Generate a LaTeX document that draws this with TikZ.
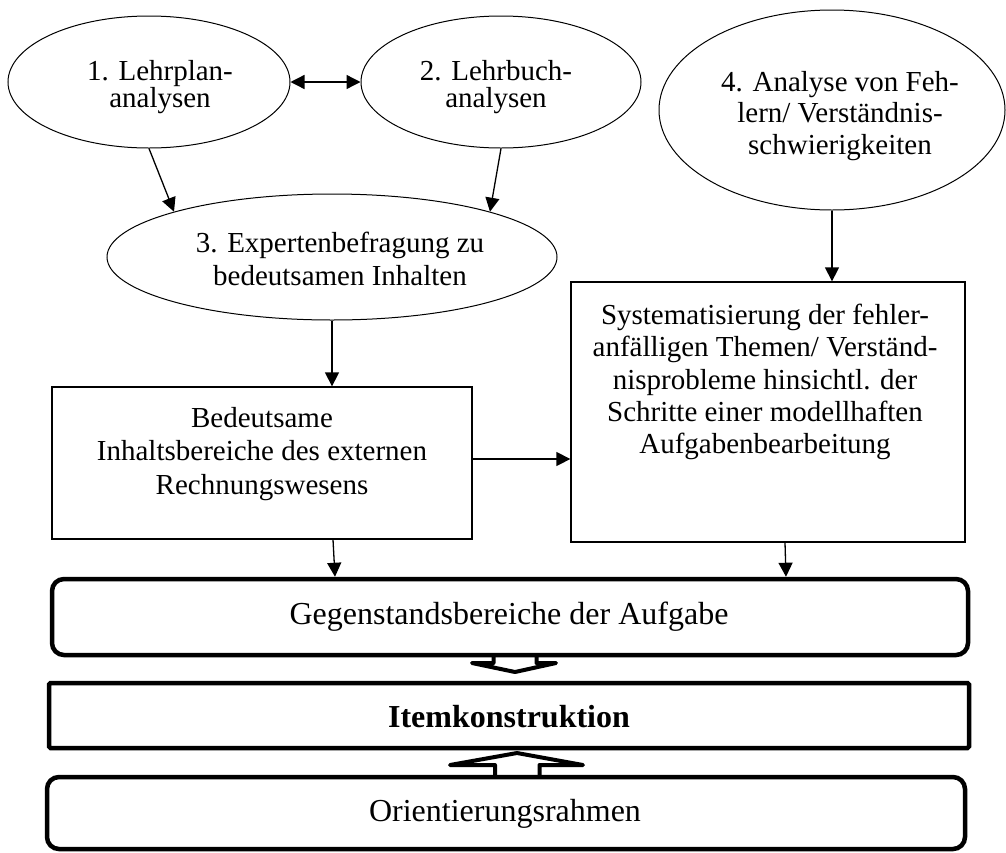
\documentclass[tikz,border=0pt]{standalone}
\usepackage{fontspec}
\setmainfont{Liberation Serif}
\usetikzlibrary{shapes.geometric,arrows.meta}
\begin{document}
\begin{tikzpicture}[x=1pt,y=-1pt,
  ell/.style={draw,ellipse,line width=1pt,inner sep=0pt},
  thinbox/.style={draw,rectangle,line width=1.3pt,inner sep=0pt},
  thickbox/.style={draw,rectangle,line width=4.5pt,inner sep=0pt,fill=white,rounded corners=12pt},
  txt/.style={align=center,inner sep=0pt,font=\fontsize{29}{33}\selectfont},
  bigtxt/.style={align=center,inner sep=0pt,font=\fontsize{32}{36}\selectfont},
  link/.style={line width=1.3pt,-{Triangle[length=14pt,width=14pt]}},
  blockarrow/.style={line width=4pt,line join=round,fill=white}
]
% canvas
\fill[white] (0,0) rectangle (1006,852);
\useasboundingbox (0,0) rectangle (1006,852);

% hollow block arrows (partly hidden behind the boxes)
\draw[blockarrow] (493.5,640) -- (493.5,663) -- (472,663) -- (515,672) -- (556,663)
  -- (536.5,663) -- (536.5,640) -- cycle;
\draw[blockarrow] (495,790) -- (495,765) -- (450,765) -- (517,753) -- (583,765)
  -- (539.5,765) -- (539.5,790) -- cycle;

% ellipses
\node[ell,minimum width=282pt,minimum height=132pt] (e1) at (149,82) {};
\node[ell,minimum width=280pt,minimum height=132pt] (e2) at (501,82) {};
\node[ell,minimum width=450pt,minimum height=126pt] (e3) at (332,257) {};
\node[ell,minimum width=346pt,minimum height=200pt] (e4) at (832,110) {};

\node[txt,font=\fontsize{29}{27}\selectfont] (t1) at (160,87) {1. Lehrplan-\\analysen};
\node[txt,font=\fontsize{29}{27}\selectfont] (t2) at (496,87) {2. Lehrbuch-\\analysen};
\node[txt] (t3) at (340,259) {3. Expertenbefragung zu\\bedeutsamen Inhalten};
\node[txt,font=\fontsize{29}{31.5}\selectfont] (t4) at (840,116)
  {4. Analyse von Feh-\\lern/ Verständnis-\\schwierigkeiten};

% content boxes
\node[thinbox,minimum width=420pt,minimum height=152pt] (b1) at (262,463) {};
\node[txt,font=\fontsize{29}{33.5}\selectfont] (tb1) at (262,454)
  {Bedeutsame\\Inhaltsbereiche des externen\\Rechnungswesens};
\node[thinbox,minimum width=394pt,minimum height=260pt] (b2) at (768,412) {};
\node[txt,font=\fontsize{29}{32.3}\selectfont] (tb2) at (765,382)
  {Systematisierung der fehler-\\anfälligen Themen/ Verständ-\\nisprobleme hinsichtl. der\\Schritte einer modellhaften\\Aufgabenbearbeitung};

% lower frames
\node[thickbox,minimum width=916pt,minimum height=76pt] (g) at (510,617) {};
\node[bigtxt] (tg) at (509,617) {Gegenstandsbereiche der Aufgabe};
\node[thickbox,rounded corners=1.5pt,minimum width=920pt,minimum height=65pt] (it) at (509,715.5) {};
\node[bigtxt,font=\fontsize{32}{36}\selectfont\bfseries] (tit) at (509,717) {Itemkonstruktion};
\node[thickbox,minimum width=918pt,minimum height=72pt] (o) at (506,813) {};
\node[bigtxt] (to) at (505,814) {Orientierungsrahmen};

% connectors
\draw[line width=1.3pt,{Triangle[length=14pt,width=14pt]}-{Triangle[length=14pt,width=14pt]}] (e1.east) -- (e2.west);
\draw[link] (e1.south) -- (e3.164);
\draw[link] (e2.south) -- (e3.16);
\draw[link] (e3.south) -- (e3.south |- b1.north);
\draw[link] (e4.south) -- (e4.south |- b2.north);
\draw[link] ([yshift=4pt]b1.east) -- ([yshift=4pt]b1.east -| b2.west);
\draw[link] ([xshift=71pt]b1.south) -- ([xshift=73pt]b1.south |- g.north);
\draw[link] ([xshift=17pt]b2.south) -- ([xshift=18pt]b2.south |- g.north);
\end{tikzpicture}
\end{document}
